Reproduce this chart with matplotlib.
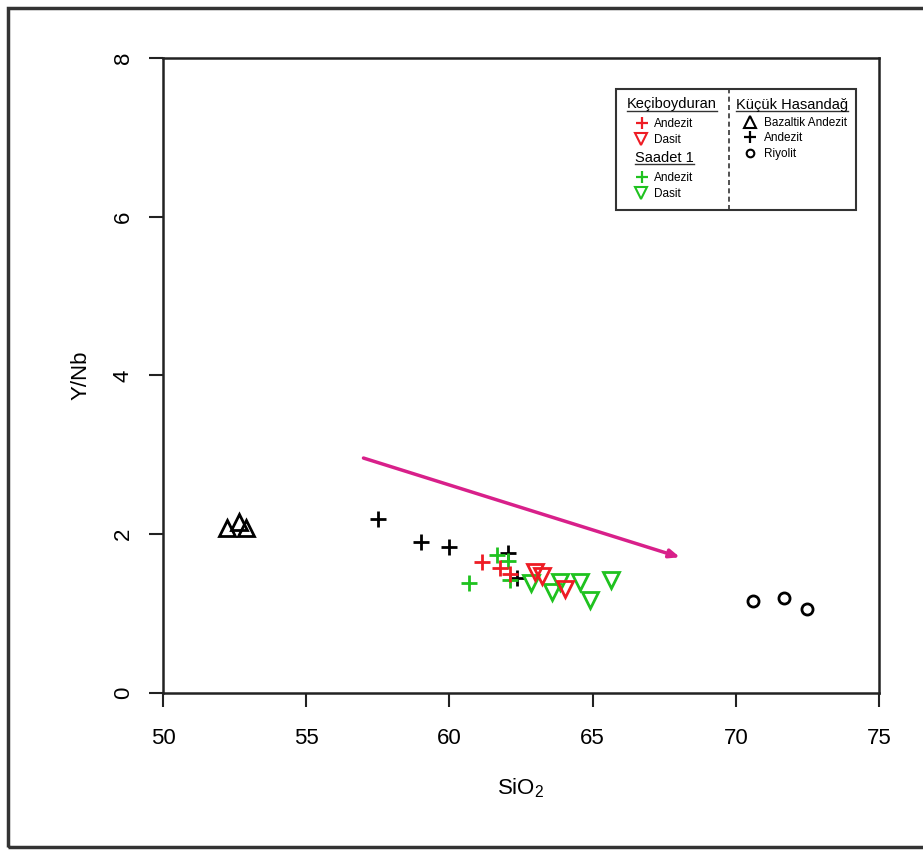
import matplotlib
matplotlib.use('Agg')
import matplotlib.pyplot as plt
from matplotlib.patches import Rectangle

plt.rcParams['font.family'] = ['Liberation Sans', 'DejaVu Sans']
plt.rcParams['mathtext.default'] = 'regular'

# Keçiboyduran
kb_andezit_sio2 = [61.15, 61.75, 62.1]
kb_andezit_ynb = [1.65, 1.58, 1.50]
kb_dasit_sio2 = [63.0, 63.25, 64.05]
kb_dasit_ynb = [1.52, 1.47, 1.31]

# Saadet 1
sa_andezit_sio2 = [60.7, 61.65, 62.05, 62.1]
sa_andezit_ynb = [1.38, 1.74, 1.66, 1.42]
sa_dasit_sio2 = [62.85, 63.6, 63.85, 64.55, 64.9, 65.65]
sa_dasit_ynb = [1.38, 1.27, 1.40, 1.40, 1.17, 1.42]

# Küçük Hasandağ
kh_bazaltik_sio2 = [52.25, 52.65, 52.9]
kh_bazaltik_ynb = [2.08, 2.15, 2.08]
kh_andezit_sio2 = [57.5, 59.0, 60.0, 62.05, 62.35]
kh_andezit_ynb = [2.19, 1.90, 1.84, 1.77, 1.45]
kh_riyolit_sio2 = [70.6, 71.7, 72.5]
kh_riyolit_ynb = [1.16, 1.20, 1.06]

# trend arrow (start, end)
arrow_start = (57.0, 2.96)
arrow_end = (68.05, 1.71)

x_ticks = [50, 55, 60, 65, 70, 75]
y_ticks = [0, 2, 4, 6, 8]

RED = '#ee1c24'
GREEN = '#1fc21f'
MAGENTA = '#d8208a'

fig = plt.figure(figsize=(9.23, 8.5), dpi=100)
ax = fig.add_axes([0.1766, 0.1847, 0.7757, 0.7471])

# outer frame of the figure
fig.patches.append(Rectangle((8 / 923, 3 / 850), 1.2, 839 / 850, transform=fig.transFigure,
                             fill=False, edgecolor='#333333', linewidth=2.5))

# data
ax.plot(kh_bazaltik_sio2, kh_bazaltik_ynb, '^', mfc='none', mec='black', ms=11, mew=2)
ax.plot(kh_andezit_sio2, kh_andezit_ynb, '+', color='black', ms=11, mew=2)
ax.plot(kh_riyolit_sio2, kh_riyolit_ynb, 'o', mfc='none', mec='black', ms=8, mew=2)
ax.plot(sa_andezit_sio2, sa_andezit_ynb, '+', color=GREEN, ms=11, mew=2)
ax.plot(kb_andezit_sio2, kb_andezit_ynb, '+', color=RED, ms=11, mew=2)
ax.plot(sa_dasit_sio2, sa_dasit_ynb, 'v', mfc='none', mec=GREEN, ms=12, mew=2)
ax.plot(kb_dasit_sio2, kb_dasit_ynb, 'v', mfc='none', mec=RED, ms=12, mew=2)

ax.annotate('', xy=arrow_end, xytext=arrow_start,
            arrowprops=dict(arrowstyle='-|>,head_length=0.6,head_width=0.25',
                            color=MAGENTA, lw=2.5, shrinkA=0, shrinkB=0))

# axes
ax.set_xlim(50, 75)
ax.set_ylim(0, 8)
ax.set_xticks(x_ticks)
ax.set_yticks(y_ticks)
ax.tick_params(axis='both', length=10, width=1.5, labelsize=16, color='#222222')
ax.tick_params(axis='x', pad=15)
ax.tick_params(axis='y', pad=11, labelrotation=90)
for lbl in ax.get_yticklabels():
    lbl.set_va('center')
for s in ax.spines.values():
    s.set_linewidth(1.8)
    s.set_color('#222222')
ax.set_xlabel('SiO$_2$', fontsize=16, labelpad=20)
ax.set_ylabel('Y/Nb', fontsize=16, labelpad=15)

# legend, drawn by hand like the original
tr = ax.transAxes
box_l, box_r, box_b, box_t = 0.6327, 0.9679, 0.7606, 0.9512
div_x = 0.7905
ax.add_patch(Rectangle((box_l, box_b), box_r - box_l, box_t - box_b, transform=tr,
                       fill=False, edgecolor='#333333', linewidth=1.5, zorder=5))
ax.plot([div_x, div_x], [box_b, box_t], transform=tr, color='#333333', lw=1.2,
        ls=(0, (3, 2)), zorder=5)

titles = []
titles.append(ax.text(0.711, 0.927, 'Keçiboyduran', transform=tr, ha='center', va='center', fontsize=10.5))
titles.append(ax.text(0.700, 0.8425, 'Saadet 1', transform=tr, ha='center', va='center', fontsize=10.5))
titles.append(ax.text(0.8785, 0.926, 'Küçük Hasandağ', transform=tr, ha='center', va='center', fontsize=10.5))

left_items = [
    ('+', RED, 0.8976, 'Andezit'),
    ('v', RED, 0.8724, 'Dasit'),
    ('+', GREEN, 0.8126, 'Andezit'),
    ('v', GREEN, 0.7874, 'Dasit'),
]
for mk, col, yy, label in left_items:
    if mk == '+':
        ax.plot([0.669], [yy], mk, color=col, ms=8, mew=1.6, transform=tr)
    else:
        ax.plot([0.667], [yy], mk, mfc='none', mec=col, ms=9, mew=1.5, transform=tr)
    ax.text(0.686, yy - 0.002, label, transform=tr, va='center', fontsize=8.5)

right_items = [
    ('^', 0.899, 'Bazaltik Andezit'),
    ('+', 0.8756, 'Andezit'),
    ('o', 0.8504, 'Riyolit'),
]
for mk, yy, label in right_items:
    if mk == '+':
        ax.plot([0.82], [yy], mk, color='black', ms=8, mew=1.6, transform=tr)
    elif mk == '^':
        ax.plot([0.82], [yy], mk, mfc='none', mec='black', ms=9, mew=1.5, transform=tr)
    else:
        ax.plot([0.82], [yy], mk, mfc='none', mec='black', ms=5.5, mew=1.5, transform=tr)
    ax.text(0.839, yy - 0.002, label, transform=tr, va='center', fontsize=8.5)

# underline the legend titles
fig.canvas.draw()
renderer = fig.canvas.get_renderer()
inv = tr.inverted()
for t in titles:
    bb = t.get_window_extent(renderer)
    (x0, y0), (x1, y1) = inv.transform([(bb.x0, bb.y0), (bb.x1, bb.y1)])
    ax.plot([x0, x1], [y0 + 0.001, y0 + 0.001], transform=tr, color='#333333', lw=1)

fig.savefig('out.png', dpi=100)
